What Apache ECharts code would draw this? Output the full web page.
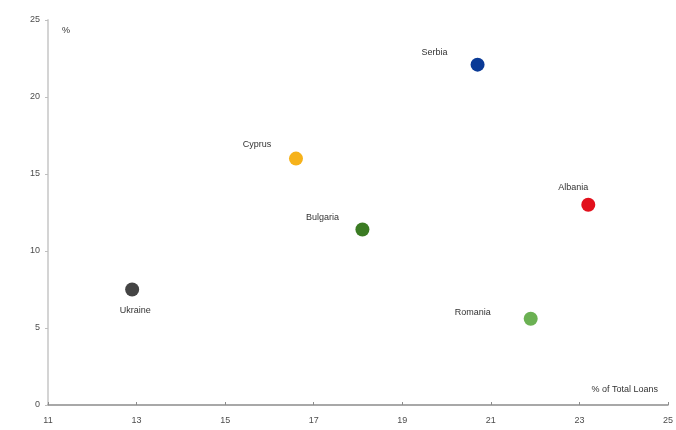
<!DOCTYPE html>
<html>
<head>
<meta charset="utf-8">
<script src="https://cdn.jsdelivr.net/npm/echarts@6/dist/echarts.min.js"></script>
<style>
  html, body { margin: 0; padding: 0; background: #fff; }
  #chart { width: 676px; height: 430px; }
</style>
</head>
<body>
<div id="chart"></div>
<script>
// Countries, share of total loans (x) and rate in % (y)
const countries = ['Serbia', 'Cyprus', 'Albania', 'Bulgaria', 'Ukraine', 'Romania'];
const loanShare = [20.7, 16.6, 23.2, 18.1, 12.9, 21.9];
const rates = [22.1, 16.0, 13.0, 11.4, 7.5, 5.6];
const colors = ['#0a3a96', '#f6b21a', '#e2101c', '#3b7b23', '#444444', '#6bb153'];
// label placement relative to each marker's box
const labelOffsets = [[-36, -5], [-32, -7], [-8, -10], [-33, -5], [10, 28], [-51, 1]];

const xTicks = [11, 13, 15, 17, 19, 21, 23, 25];
const yTicks = [0, 5, 10, 15, 20, 25];

const chart = echarts.init(document.getElementById('chart'), null, { renderer: 'canvas' });

const data = countries.map((name, i) => ({
  name: name,
  value: [loanShare[i], rates[i]],
  itemStyle: { color: colors[i], opacity: 1 },
  label: {
    show: true,
    formatter: name,
    position: labelOffsets[i],
    align: 'center',
    verticalAlign: 'middle',
    color: '#333333',
    fontSize: 9,
    fontFamily: 'Liberation Sans'
  }
}));

chart.setOption({
  animation: false,
  backgroundColor: '#fff',
  grid: { left: 48, right: 6, top: 20, bottom: 25, containLabel: false },
  xAxis: {
    type: 'value',
    min: xTicks[0],
    max: xTicks[xTicks.length - 1],
    interval: 2,
    axisLine: { show: true, onZero: false, lineStyle: { color: '#8c8c8c', width: 1.5 } },
    axisTick: { show: true, inside: true, length: 3, lineStyle: { color: '#8c8c8c' } },
    axisLabel: { color: '#4d4d4d', fontSize: 9, fontFamily: 'Liberation Sans', margin: 11 },
    splitLine: { show: false },
    name: '% of Total Loans',
    nameLocation: 'end',
    nameGap: 0,
    nameTextStyle: {
      color: '#333333', fontSize: 9, fontFamily: 'Liberation Sans',
      align: 'right', verticalAlign: 'bottom', padding: [0, 10, 11, 0]
    }
  },
  yAxis: {
    type: 'value',
    min: yTicks[0],
    max: yTicks[yTicks.length - 1],
    interval: 5,
    axisLine: { show: true, lineStyle: { color: '#d4d4d4', width: 2 } },
    axisTick: { show: true, length: 3, lineStyle: { color: '#bfbfbf' } },
    axisLabel: { color: '#4d4d4d', fontSize: 9, fontFamily: 'Liberation Sans', margin: 8 },
    splitLine: { show: false },
    name: '%',
    nameLocation: 'end',
    nameGap: 0,
    nameTextStyle: {
      color: '#333333', fontSize: 9, fontFamily: 'Liberation Sans',
      align: 'left', verticalAlign: 'top', padding: [6, 0, 0, 14]
    }
  },
  series: [{
    type: 'scatter',
    symbol: 'circle',
    symbolSize: 14,
    data: data
  }]
});
</script>
</body>
</html>
